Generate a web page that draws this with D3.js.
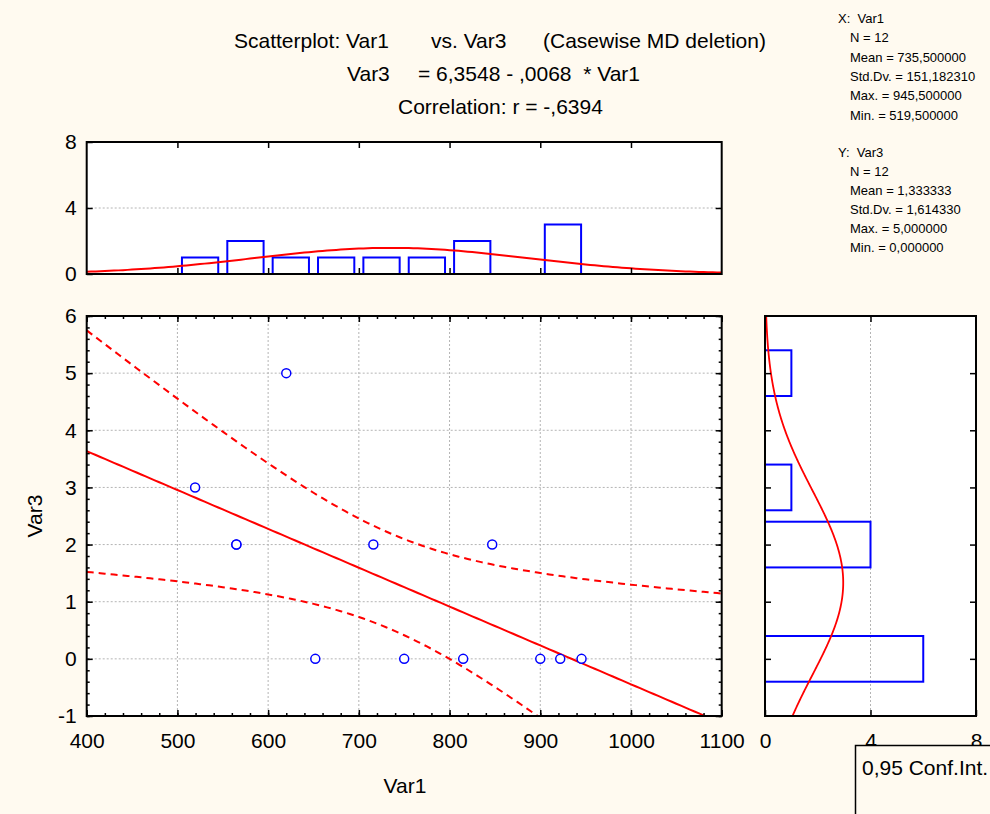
<!DOCTYPE html>
<html>
<head>
<meta charset="utf-8">
<script src="https://cdn.jsdelivr.net/npm/d3@7"></script>
<style>
  body { margin: 0; background: #fffaf0; }
  svg { display: block; font-family: "Liberation Sans", Arial, sans-serif; }
  .pre { white-space: pre; }
</style>
</head>
<body>
<script>
// ---- data ----
const var1 = [519.5, 565, 565, 620, 652, 716, 750, 815, 847, 900, 922, 945.5];
const var3 = [3, 2, 2, 5, 0, 2, 0, 0, 2, 0, 0, 0];

// histogram of Var1 (bin centres, width 50)
const xBinCenters = [475, 525, 575, 625, 675, 725, 775, 825, 875, 925, 975];
const xBinCounts  = [0, 1, 2, 1, 1, 1, 1, 2, 0, 3, 0];
// histogram of Var3 (bin centres, width 1)
const yBinCenters = [0, 1, 2, 3, 4, 5];
const yBinCounts  = [6, 0, 4, 1, 0, 1];

// fit values as printed on the chart
const intercept = 6.3548, slope = -0.0068, corr = -0.6394;
const nObs = 12;
const xMean = 735.5, xSd = 151.18231;
const yMean = 1.333333, ySd = 1.61433;
const tCrit = 2.228; // t(0.975, 10)

// ticks
const xTicks = [400, 500, 600, 700, 800, 900, 1000, 1100];
const xMinor = d3.range(400, 1101, 20);
const yTicks = [-1, 0, 1, 2, 3, 4, 5, 6];
const yMinor = d3.range(-1, 6.01, 0.2);
const histTicks = [0, 4, 8];

const titleLines = [
  [["Scatterplot: Var1", 234], ["vs. Var3", 431], ["(Casewise MD deletion)", 543]],
  [["Var3", 347], ["= 6,3548 - ,0068  * Var1", 418]],
  [["Correlation: r = -,6394", 398]]
];
const statsX = ["X:  Var1", "N = 12", "Mean = 735,500000", "Std.Dv. = 151,182310", "Max. = 945,500000", "Min. = 519,500000"];
const statsY = ["Y:  Var3", "N = 12", "Mean = 1,333333", "Std.Dv. = 1,614330", "Max. = 5,000000", "Min. = 0,000000"];

const bg = "#fffaf0";
const svg = d3.select("body").append("svg").attr("width", 990).attr("height", 814);

// ---- scales ----
const x = d3.scaleLinear().domain([400, 1100]).range([86.7, 721.7]);
const y = d3.scaleLinear().domain([-1, 6]).range([716, 316]);
const hy = d3.scaleLinear().domain([0, 8]).range([274, 142]);
const rx = d3.scaleLinear().domain([0, 8]).range([765, 976]);

// ---- titles ----
titleLines.forEach((line, i) => {
  line.forEach(seg => {
    svg.append("text").attr("class", "pre").attr("x", seg[1]).attr("y", 48 + i * 33)
      .attr("font-size", 21).text(seg[0]);
  });
});

statsX.forEach((s, i) => {
  svg.append("text").attr("class", "pre").attr("x", i ? 850 : 838).attr("y", 23 + i * 19.3)
    .attr("font-size", 13).text(s);
});
statsY.forEach((s, i) => {
  svg.append("text").attr("class", "pre").attr("x", i ? 850 : 838).attr("y", 157 + i * 18.9)
    .attr("font-size", 13).text(s);
});

// helper: panel background + clip
function panel(id, x0, y0, x1, y1) {
  svg.append("rect").attr("x", x0).attr("y", y0).attr("width", x1 - x0).attr("height", y1 - y0)
    .attr("fill", "white");
  svg.append("clipPath").attr("id", id).append("rect")
    .attr("x", x0).attr("y", y0).attr("width", x1 - x0).attr("height", y1 - y0);
  return svg.append("g").attr("clip-path", `url(#${id})`);
}
function frame(x0, y0, x1, y1) {
  svg.append("rect").attr("x", x0).attr("y", y0).attr("width", x1 - x0).attr("height", y1 - y0)
    .attr("fill", "none").attr("stroke", "black").attr("stroke-width", 2);
}
function styleAxis(g, fs) {
  g.select(".domain").remove();
  g.selectAll("line").attr("stroke", "black").attr("stroke-width", 1.5);
  g.selectAll("text").attr("font-size", fs).attr("fill", "black");
  g.attr("font-family", null);
}
function grid(g, vals, fn) {
  g.selectAll(null).data(vals).enter().append("line").each(function (d) {
    const c = fn(d);
    d3.select(this).attr("x1", c[0]).attr("y1", c[1]).attr("x2", c[2]).attr("y2", c[3]);
  }).attr("stroke", "#b4b4b4").attr("stroke-width", 1).attr("stroke-dasharray", "2,2");
}
const fmt = d => String(d);

// ================= top histogram =================
const gTop = panel("clipTop", 86.7, 142, 721.7, 274);
grid(gTop, [4], d => [86.7, hy(d), 721.7, hy(d)]);
const barW = 40;
gTop.selectAll(".xbar").data(xBinCenters).enter().append("rect")
  .attr("x", (d) => x(d - barW / 2))
  .attr("width", (d) => x(d + barW / 2) - x(d - barW / 2))
  .attr("y", (d, i) => hy(xBinCounts[i]))
  .attr("height", (d, i) => hy(0) - hy(xBinCounts[i]))
  .attr("fill", "none").attr("stroke", "#0000ff").attr("stroke-width", 2);
const xCurve = d3.range(400, 1100.1, 5).map(v =>
  [v, nObs * 50 * Math.exp(-0.5 * ((v - xMean) / xSd) ** 2) / (xSd * Math.sqrt(2 * Math.PI))]);
gTop.append("path").datum(xCurve)
  .attr("d", d3.line().x(d => x(d[0])).y(d => hy(d[1])))
  .attr("fill", "none").attr("stroke", "#ff0000").attr("stroke-width", 2);

styleAxis(svg.append("g").attr("transform", "translate(86.7,0)")
  .call(d3.axisLeft(hy).tickValues(histTicks).tickSize(-6).tickPadding(10).tickFormat(fmt)), 21);
styleAxis(svg.append("g").attr("transform", "translate(721.7,0)")
  .call(d3.axisRight(hy).tickValues([4]).tickSize(-6).tickFormat("")), 21);
styleAxis(svg.append("g").attr("transform", "translate(0,142)")
  .call(d3.axisTop(x).tickValues(xTicks.slice(1, -1)).tickSize(-6).tickFormat("")), 21);
styleAxis(svg.append("g").attr("transform", "translate(0,274)")
  .call(d3.axisBottom(x).tickValues(xTicks.slice(1, -1)).tickSize(-6).tickFormat("")), 21);
frame(86.7, 142, 721.7, 274);

// ================= scatter =================
const gSc = panel("clipSc", 86.7, 316, 721.7, 716);
grid(gSc, xTicks.slice(1, -1), d => [x(d), 316, x(d), 716]);
grid(gSc, yTicks.slice(1, -1), d => [86.7, y(d), 721.7, y(d)]);

const sRes = ySd * Math.sqrt(1 - corr * corr) * Math.sqrt((nObs - 1) / (nObs - 2));
const sxx = (nObs - 1) * xSd * xSd;
const fitPts = d3.range(400, 1100.1, 5).map(v => {
  const yh = intercept + slope * v;
  const h = tCrit * sRes * Math.sqrt(1 / nObs + (v - xMean) ** 2 / sxx);
  return { v, yh, lo: yh - h, hi: yh + h };
});
gSc.append("path").datum(fitPts)
  .attr("d", d3.line().x(d => x(d.v)).y(d => y(d.yh)))
  .attr("fill", "none").attr("stroke", "#ff0000").attr("stroke-width", 2);
["lo", "hi"].forEach(k => {
  gSc.append("path").datum(fitPts)
    .attr("d", d3.line().x(d => x(d.v)).y(d => y(d[k])))
    .attr("fill", "none").attr("stroke", "#ff0000").attr("stroke-width", 2)
    .attr("stroke-dasharray", "7,5");
});
gSc.selectAll("circle").data(var1).enter().append("circle")
  .attr("cx", d => x(d)).attr("cy", (d, i) => y(var3[i])).attr("r", 4.5)
  .attr("fill", "white").attr("stroke", "#0000ff").attr("stroke-width", 1.5);

styleAxis(svg.append("g").attr("transform", "translate(0,716)")
  .call(d3.axisBottom(x).tickValues(xTicks).tickSize(-6).tickPadding(17).tickFormat(fmt)), 21);
styleAxis(svg.append("g").attr("transform", "translate(0,716)")
  .call(d3.axisBottom(x).tickValues(xMinor).tickSize(-3).tickFormat("")), 21);
styleAxis(svg.append("g").attr("transform", "translate(0,316)")
  .call(d3.axisTop(x).tickValues(xTicks).tickSize(-6).tickFormat("")), 21);
styleAxis(svg.append("g").attr("transform", "translate(0,316)")
  .call(d3.axisTop(x).tickValues(xMinor).tickSize(-3).tickFormat("")), 21);
styleAxis(svg.append("g").attr("transform", "translate(86.7,0)")
  .call(d3.axisLeft(y).tickValues(yTicks).tickSize(-6).tickPadding(10).tickFormat(fmt)), 21);
styleAxis(svg.append("g").attr("transform", "translate(86.7,0)")
  .call(d3.axisLeft(y).tickValues(yMinor).tickSize(-3).tickFormat("")), 21);
styleAxis(svg.append("g").attr("transform", "translate(721.7,0)")
  .call(d3.axisRight(y).tickValues(yTicks).tickSize(-6).tickFormat("")), 21);
styleAxis(svg.append("g").attr("transform", "translate(721.7,0)")
  .call(d3.axisRight(y).tickValues(yMinor).tickSize(-3).tickFormat("")), 21);
frame(86.7, 316, 721.7, 716);

svg.append("text").attr("x", 405).attr("y", 793).attr("text-anchor", "middle")
  .attr("font-size", 21).text("Var1");
svg.append("text").attr("transform", "translate(42,516) rotate(-90)").attr("text-anchor", "middle")
  .attr("font-size", 21).text("Var3");

// ================= right histogram =================
const gR = panel("clipR", 765, 316, 976, 716);
grid(gR, [4], d => [rx(d), 316, rx(d), 716]);
const barH = 0.8;
gR.selectAll(".ybar").data(yBinCenters).enter().append("rect")
  .attr("x", rx(0))
  .attr("width", (d, i) => rx(yBinCounts[i]) - rx(0))
  .attr("y", d => y(d + barH / 2))
  .attr("height", d => y(d - barH / 2) - y(d + barH / 2))
  .attr("fill", "none").attr("stroke", "#0000ff").attr("stroke-width", 2);
const yCurve = d3.range(-1, 6.01, 0.02).map(v =>
  [v, nObs * 1 * Math.exp(-0.5 * ((v - yMean) / ySd) ** 2) / (ySd * Math.sqrt(2 * Math.PI))]);
gR.append("path").datum(yCurve)
  .attr("d", d3.line().x(d => rx(d[1])).y(d => y(d[0])))
  .attr("fill", "none").attr("stroke", "#ff0000").attr("stroke-width", 1.8);

styleAxis(svg.append("g").attr("transform", "translate(0,716)")
  .call(d3.axisBottom(rx).tickValues(histTicks).tickSize(-6).tickPadding(17).tickFormat(fmt)), 21);
styleAxis(svg.append("g").attr("transform", "translate(0,316)")
  .call(d3.axisTop(rx).tickValues([4]).tickSize(-6).tickFormat("")), 21);
styleAxis(svg.append("g").attr("transform", "translate(976,0)")
  .call(d3.axisRight(y).tickValues(yTicks.slice(1, -1)).tickSize(-6).tickFormat("")), 21);
styleAxis(svg.append("g").attr("transform", "translate(765,0)")
  .call(d3.axisLeft(y).tickValues(yTicks.slice(1, -1)).tickSize(-6).tickFormat("")), 21);
frame(765, 316, 976, 716);

// ---- legend box ----
svg.append("rect").attr("x", 855.5).attr("y", 745.5).attr("width", 200).attr("height", 120)
  .attr("fill", bg).attr("stroke", "black").attr("stroke-width", 1.5);
svg.append("text").attr("x", 862).attr("y", 775).attr("font-size", 21).text("0,95 Conf.Int.");
</script>
</body>
</html>
